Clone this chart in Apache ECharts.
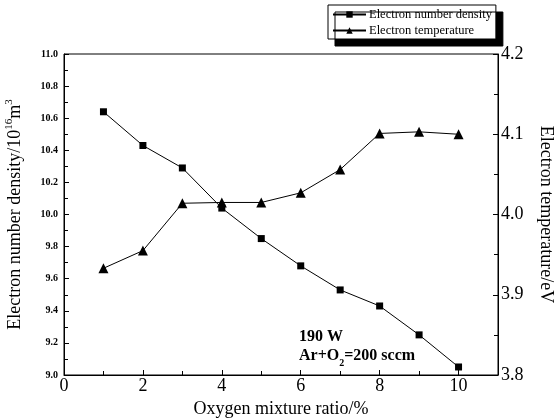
<!DOCTYPE html>
<html>
<head>
<meta charset="utf-8">
<script src="https://cdn.jsdelivr.net/npm/echarts@6/dist/echarts.min.js"></script>
<style>
  html, body { margin: 0; padding: 0; background: #fff; }
  #chart { width: 559px; height: 420px; }
</style>
</head>
<body>
<div id="chart"></div>
<script>
// oxygen mixture ratio (%)
var ratio = [1, 2, 3, 4, 5, 6, 7, 8, 9, 10];
// electron number density, 10^16 m^-3
var density = [10.64, 10.43, 10.29, 10.04, 9.85, 9.68, 9.53, 9.43, 9.25, 9.05];
// electron temperature, eV
var temperature = [3.933, 3.955, 4.014, 4.015, 4.015, 4.027, 4.056, 4.101, 4.103, 4.100];

var serif = '"Liberation Serif", "DejaVu Serif", serif';

function pairs(xs, ys) {
  return xs.map(function (x, i) { return [x, ys[i]]; });
}

var chart = echarts.init(document.getElementById('chart'));
chart.setOption({
  animation: false,
  backgroundColor: '#fff',
  grid: {
    left: 64, right: 61, top: 54, bottom: 45,
    outerBoundsMode: 'none',
    show: true, borderColor: '#000', borderWidth: 1
  },
  legend: {
    left: 328, top: 5,
    orient: 'vertical',
    itemWidth: 33, itemHeight: 8, itemGap: 3,
    padding: [3, 4, 2, 4],
    backgroundColor: '#fff',
    borderColor: '#000', borderWidth: 1,
    shadowColor: '#000', shadowBlur: 0, shadowOffsetX: 7, shadowOffsetY: 7,
    textStyle: { fontFamily: serif, fontSize: 12.5, lineHeight: 13, color: '#000', padding: [0, 0, 0, -2] },
    data: ['Electron number density', 'Electron temperature']
  },
  xAxis: {
    type: 'value', min: 0, max: 11, interval: 2,
    axisLine: { lineStyle: { color: '#000', width: 1 } },
    axisTick: { inside: true, length: 5, lineStyle: { color: '#000' } },
    minorTick: { show: true, splitNumber: 2, length: 4, lineStyle: { color: '#000' } },
    splitLine: { show: false },
    axisLabel: {
      fontFamily: serif, fontSize: 18, color: '#000', margin: 2,
      formatter: function (v) { return v > 10 ? '' : v; }
    },
    name: 'Oxygen mixture ratio/%',
    nameLocation: 'middle', nameGap: 25,
    nameTextStyle: { fontFamily: serif, fontSize: 18, color: '#000' }
  },
  yAxis: [{
    type: 'value', min: 9.0, max: 11.0, interval: 0.2,
    axisLine: { show: true, lineStyle: { color: '#000', width: 1 } },
    axisTick: { inside: true, length: 5, lineStyle: { color: '#000' } },
    minorTick: { show: true, splitNumber: 2, length: 4, lineStyle: { color: '#000' } },
    splitLine: { show: false },
    axisLabel: {
      fontFamily: serif, fontSize: 10, fontWeight: 'bold', color: '#000', margin: 6,
      formatter: function (v) { return v.toFixed(1); }
    },
    name: '{a|Electron number density/10}{s|16}{a|m}{s|3}',
    nameLocation: 'middle', nameGap: 40,
    nameTextStyle: {
      color: '#000',
      rich: {
        a: { fontFamily: serif, fontSize: 18, color: '#000', verticalAlign: 'bottom', lineHeight: 20 },
        s: { fontFamily: serif, fontSize: 11, color: '#000', verticalAlign: 'top', lineHeight: 20 }
      }
    }
  }, {
    type: 'value', min: 3.8, max: 4.2, interval: 0.1, position: 'right',
    axisLine: { show: true, lineStyle: { color: '#000', width: 1 } },
    axisTick: { inside: true, length: 5, lineStyle: { color: '#000' } },
    minorTick: { show: true, splitNumber: 2, length: 4, lineStyle: { color: '#000' } },
    splitLine: { show: false },
    axisLabel: {
      fontFamily: serif, fontSize: 18, color: '#000', margin: 3,
      formatter: function (v) { return v.toFixed(1); }
    },
    name: 'Electron temperature/eV',
    nameLocation: 'middle', nameGap: 39, nameRotate: -90,
    nameTextStyle: { fontFamily: serif, fontSize: 18, color: '#000' }
  }],
  series: [{
    name: 'Electron number density',
    type: 'line', yAxisIndex: 0,
    data: pairs(ratio, density),
    symbol: 'rect', symbolSize: 7,
    itemStyle: { color: '#000' },
    lineStyle: { color: '#000', width: 1 }
  }, {
    name: 'Electron temperature',
    type: 'line', yAxisIndex: 1,
    data: pairs(ratio, temperature),
    symbol: 'triangle', symbolSize: 10,
    itemStyle: { color: '#000' },
    lineStyle: { color: '#000', width: 1 }
  }],
  graphic: [{
    type: 'text', left: 299, top: 329,
    style: {
      text: '190 W',
      fontFamily: serif, fontSize: 16, fontWeight: 'bold', fill: '#000'
    }
  }, {
    type: 'text', left: 299, top: 348,
    style: {
      text: '{b|Ar+O}{sub|2}{b|=200 sccm}',
      rich: {
        b: { fontFamily: serif, fontSize: 16, fontWeight: 'bold', fill: '#000', verticalAlign: 'top', lineHeight: 20 },
        sub: { fontFamily: serif, fontSize: 10, fontWeight: 'bold', fill: '#000', verticalAlign: 'bottom', lineHeight: 20 }
      }
    }
  }]
});
</script>
</body>
</html>
